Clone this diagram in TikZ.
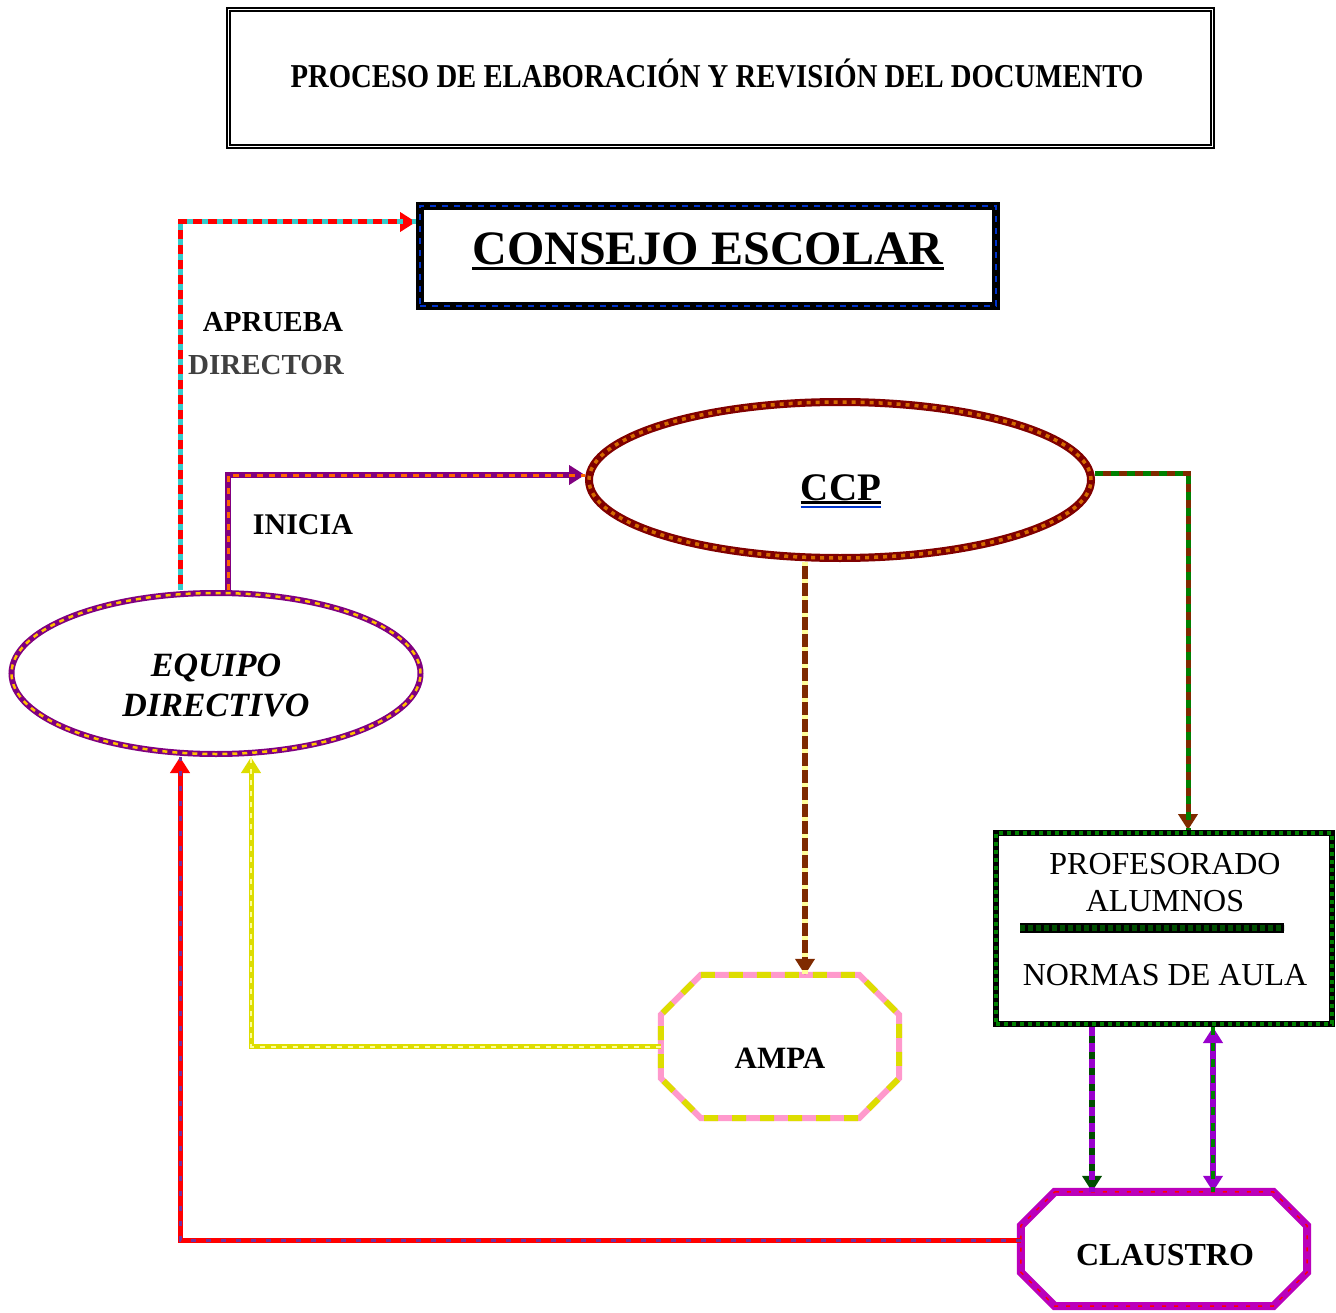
\documentclass[tikz,border=0pt]{standalone}
\usepackage{fontspec}
\usepackage{graphicx}
\setmainfont{Liberation Serif}
\usetikzlibrary{shapes.geometric,arrows.meta}

\definecolor{azul}{HTML}{0033CC}
\definecolor{granate}{HTML}{800000}
\definecolor{naranja}{HTML}{D46A00}
\definecolor{morado}{HTML}{800080}
\definecolor{oro}{HTML}{FFC000}
\definecolor{rosa}{HTML}{FF99CC}
\definecolor{amarillo}{HTML}{DDDD00}
\definecolor{magenta}{HTML}{BB00BB}
\definecolor{rojo}{HTML}{FF0000}
\definecolor{turquesa}{HTML}{33CCCC}
\definecolor{naranjavivo}{HTML}{FF6600}
\definecolor{verde}{HTML}{008000}
\definecolor{verdeosc}{HTML}{004D00}
\definecolor{violeta}{HTML}{7030A0}
\definecolor{lila}{HTML}{9900CC}
\definecolor{marron}{HTML}{7F2A00}
\definecolor{amarilloclaro}{HTML}{FFFF99}
\definecolor{gris}{HTML}{404040}

% octogono alargado sobre un nodo: nodo, chaflan, opciones
\newcommand{\octogono}[3]{%
    \draw[#3] ([xshift=#2]#1.north west) -- ([xshift=-#2]#1.north east)
        -- ([yshift=-#2]#1.north east) -- ([yshift=#2]#1.south east)
        -- ([xshift=-#2]#1.south east) -- ([xshift=#2]#1.south west)
        -- ([yshift=#2]#1.south west) -- ([yshift=-#2]#1.north west) -- cycle;}

\begin{document}
\begin{tikzpicture}[
        x=1pt, y=-1pt,
        % trazo de dos colores: color base, color de los trazos, grosor, patron
        duo/.style n args={4}{
            draw=#1,
            postaction={draw=#2, arrows=-, dash pattern=#4, line width=#3}
        },
        rotulo/.style={
            inner sep=0pt,
            font=\bfseries\fontsize{29}{34}\selectfont
        },
        texto/.style={
            inner sep=0pt,
            font=\fontsize{32}{37}\selectfont
        },
        flecha/.style={
            -{Triangle[length=16pt,width=19pt]},
            line width=5pt
        }
    ]
    \useasboundingbox (0,0) rectangle (1336,1313);

    % --- titulo ---
    \node[draw, line width=1.5pt, double=white, double distance=1.5pt,
          minimum width=984, minimum height=137] (tit) at (720.5,78) {};
    \node[rotulo] (titt) at (717,73)
          {\scalebox{0.99}[1.15]{PROCESO DE ELABORACIÓN Y REVISIÓN DEL DOCUMENTO}};

    % --- nodos ---
    \node[duo={black}{azul}{1.5pt}{on 6pt off 6pt}, line width=8pt,
          minimum width=576, minimum height=100] (CE) at (708,256) {};
    \node[ellipse, duo={granate}{naranja}{3.5pt}{on 4pt off 5pt}, line width=8pt,
          minimum width=502, minimum height=156] (CCP) at (840,480) {};
    \node[ellipse, duo={morado}{oro}{2.5pt}{on 5pt off 5pt}, line width=6pt,
          minimum width=409, minimum height=161] (ED) at (216,673.5) {};
    \node[duo={black}{verde}{3.5pt}{on 4pt off 4pt}, line width=6pt,
          minimum width=336, minimum height=191] (PR) at (1164,928.5) {};
    \node[inner sep=0pt, minimum width=238, minimum height=143] (AM) at (780,1046.5) {};
    \octogono{AM}{40pt}{duo={rosa}{amarillo}{6pt}{on 14pt off 14pt}, line width=6pt}
    \node[inner sep=0pt, minimum width=286, minimum height=114] (CL) at (1164,1249) {};
    \octogono{CL}{34pt}{duo={magenta}{rojo}{1.5pt}{on 4pt off 8pt}, line width=8pt}

    % --- textos ---
    \node[rotulo, font=\bfseries\fontsize{48}{56}\selectfont] (CEt) at (708,249) {CONSEJO ESCOLAR};
    \draw[line width=3.5pt] ([yshift=-4pt]CEt.base west) -- ([yshift=-4pt]CEt.base east);
    \node[rotulo, font=\bfseries\fontsize{39}{45}\selectfont] (CCPt) at (841,488) {CCP};
    \draw[line width=2.5pt] ([yshift=-2pt]CCPt.base west) -- ([yshift=-2pt]CCPt.base east);
    \draw[line width=2pt, azul] ([yshift=-6.5pt]CCPt.base west) -- ([yshift=-6.5pt]CCPt.base east);
    \node[rotulo, align=center, font=\bfseries\itshape\fontsize{34}{40}\selectfont] (EDt) at (216,685) {EQUIPO\\DIRECTIVO};
    \node[rotulo] (apr) at (273,322) {APRUEBA};
    \node[rotulo, text=gris] (dir) at (266,365) {DIRECTOR};
    \node[rotulo, font=\bfseries\fontsize{30}{35}\selectfont] (ini) at (303,525) {INICIA};
    \node[rotulo, font=\bfseries\fontsize{31}{36}\selectfont] (AMt) at (780,1058) {AMPA};
    \node[rotulo, font=\bfseries\fontsize{32}{37}\selectfont] (CLt) at (1165,1255) {CLAUSTRO};
    \node[texto] (prof) at (1165,864) {PROFESORADO};
    \node[texto] (alum) at (1165,901) {ALUMNOS};
    \node[texto] (norm) at (1165,975) {NORMAS DE AULA};
    \draw[duo={black}{verdeosc}{6pt}{on 5pt off 3pt}, line width=10pt] (1020,928) -- (1284,928);

    % --- conectores ---
    \coordinate (aprueba) at (180,222);
    \coordinate (inicia) at (228,475);
    \coordinate (ccpder) at (1188,473);
    \coordinate (ampa) at (805,0);
    \coordinate (vuelta) at (251,1047);
    \coordinate (claus) at (180,1240);
    \coordinate (baja) at (1092,0);
    \coordinate (doble) at (1213,0);

    \draw[flecha, duo={rojo}{turquesa}{5pt}{on 6pt off 9pt}] (ED.north -| aprueba) -- (aprueba) -- (CE.west |- aprueba);
    \draw[flecha, duo={morado}{naranjavivo}{3pt}{on 6pt off 6pt}, line width=6pt] (ED.north -| inicia) -- (inicia) -- (CCP.west |- inicia);
    \draw[flecha, duo={marron}{verde}{5pt}{on 8pt off 8pt}] (CCP.east |- ccpder) -- (ccpder) -- (PR.north -| ccpder);
    \draw[flecha, duo={marron}{amarilloclaro}{6pt}{on 4pt off 13pt}, line width=6pt] (CCP.south -| ampa) -- (AM.north -| ampa);
    \draw[flecha, duo={amarillo}{amarilloclaro}{2pt}{on 5pt off 6pt}] (AM.west) -| (ED.south -| vuelta);
    \draw[flecha, duo={rojo}{violeta}{3pt}{on 5pt off 10pt}] (CL.west |- claus) -- (claus) -- (ED.south -| claus);
    \draw[flecha, duo={verdeosc}{lila}{6pt}{on 9pt off 7pt}, line width=6pt] (PR.south -| baja) -- (CL.north -| baja);
    \draw[flecha, {Triangle[length=16pt,width=19pt]}-{Triangle[length=16pt,width=19pt]},
          duo={lila}{verde}{4pt}{on 8pt off 8pt}, line width=6pt] (PR.south -| doble) -- (CL.north -| doble);

\end{tikzpicture}
\end{document}
